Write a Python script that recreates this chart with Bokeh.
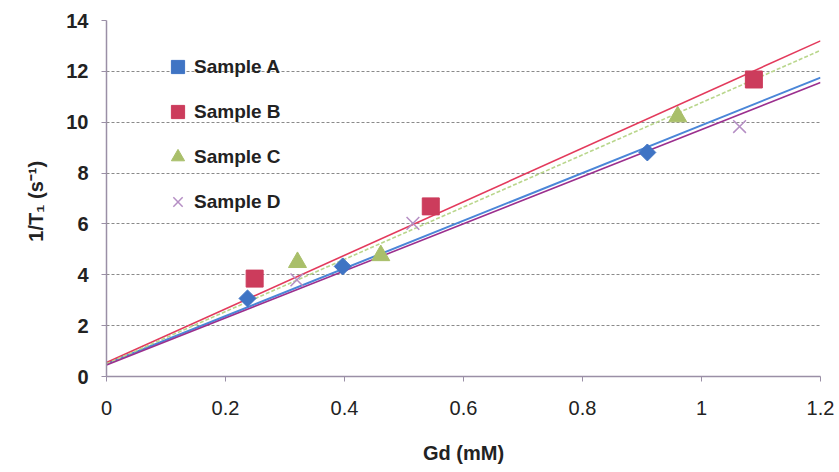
import math
from bokeh.plotting import figure
from bokeh.models import Range1d, FixedTicker, Legend, LegendItem
from bokeh.embed import file_html
from bokeh.resources import INLINE

# ---- data ----
sample_a_x = [0.237, 0.397, 0.909]
sample_a_y = [3.07, 4.33, 8.81]
sample_b_x = [0.249, 0.545, 1.088]
sample_b_y = [3.85, 6.69, 11.68]
sample_c_x = [0.321, 0.461, 0.960]
sample_c_y = [4.49, 4.76, 10.22]
sample_d_x = [0.320, 0.515, 1.064]
sample_d_y = [3.80, 6.02, 9.83]

# linear trend lines (slope, intercept) per sample A, B, C, D
trend_slope = [9.38, 10.54, 10.27, 9.26]
trend_intercept = [0.50, 0.55, 0.50, 0.45]
trend_x = [0.0, 1.2]

x_ticks = [0, 0.2, 0.4, 0.6, 0.8, 1.0, 1.2]
x_tick_labels = ["0", "0.2", "0.4", "0.6", "0.8", "1", "1.2"]
y_ticks = [0, 2, 4, 6, 8, 10, 12, 14]

FONT = "Liberation Sans"

p = figure(width=839, height=472, output_backend="svg", toolbar_location=None,
           x_range=Range1d(0, 1.2), y_range=Range1d(0, 14),
           min_border_left=106, min_border_right=19, min_border_top=20, min_border_bottom=96)
p.outline_line_color = None
p.background_fill_color = "white"
p.border_fill_color = "white"

# grid
p.xgrid.grid_line_color = None
p.ygrid.grid_line_color = "#8a8a8a"
p.ygrid.grid_line_dash = "3 2"
p.ygrid.grid_line_width = 1

# axes
p.xaxis.ticker = FixedTicker(ticks=x_ticks)
p.xaxis.major_label_overrides = {t: l for t, l in zip(x_ticks, x_tick_labels)}
p.yaxis.ticker = FixedTicker(ticks=y_ticks)
for ax in (p.xaxis[0], p.yaxis[0]):
    ax.axis_line_color = "#9a8fa6"
    ax.axis_line_width = 1.5
    ax.major_tick_line_color = "#9a8fa6"
    ax.major_tick_in = 0
    ax.major_tick_out = 5
    ax.minor_tick_line_color = None
    ax.major_label_text_font = FONT
    ax.major_label_text_font_size = "20px"
    ax.major_label_text_color = "#222222"
    ax.axis_label_text_font = FONT
    ax.axis_label_text_font_style = "bold"
    ax.axis_label_text_color = "#222222"
    ax.axis_label_text_font_size = "20px"

p.yaxis.major_label_text_font_style = "bold"
p.yaxis.major_label_standoff = 13
p.yaxis.axis_label = "1/T\u2081  (s\u207b\u00b9)"
p.yaxis.axis_label_standoff = 16
p.xaxis.major_label_standoff = 19
p.xaxis.axis_label = "Gd (mM)"
p.xaxis.axis_label_standoff = 24

# trend lines
line_colors = ["#4a86d8", "#e33a5c", "#b9d68c", "#9b2f8e"]
line_dash = ["solid", "solid", "4 2", "solid"]
line_widths = [2, 1.6, 1.6, 1.6]
for s, b, c, d, w in zip(trend_slope, trend_intercept, line_colors, line_dash, line_widths):
    ys = [b + s * x for x in trend_x]
    p.line(trend_x, ys, line_color=c, line_width=w, line_dash=d)

# markers
ra = p.scatter(sample_a_x, sample_a_y, marker="square", size=12, angle=math.pi / 4,
               fill_color="#3f74c4", line_color="#3f74c4")
rb = p.scatter(sample_b_x, sample_b_y, marker="square", size=17,
               fill_color="#cc3c5c", line_color="#cc3c5c")
rc = p.scatter(sample_c_x, sample_c_y, marker="triangle", size=18,
               fill_color="#a9bf6a", line_color="#a9bf6a")
rd = p.scatter(sample_d_x, sample_d_y, marker="x", size=18,
               line_color="#b58ec4", line_width=1.5)

legend = Legend(items=[
    LegendItem(label="Sample A", renderers=[ra]),
    LegendItem(label="Sample B", renderers=[rb]),
    LegendItem(label="Sample C", renderers=[rc]),
    LegendItem(label="Sample D", renderers=[rd]),
], location=(55, 158))
legend.border_line_color = None
legend.background_fill_alpha = 0
legend.padding = 0
legend.margin = 0
legend.spacing = 12
legend.label_height = 20
legend.glyph_height = 33
legend.glyph_width = 33
legend.label_standoff = -19
legend.label_text_font = FONT
legend.label_text_font_style = "bold"
legend.label_text_font_size = "19px"
legend.label_text_color = "#222222"
p.add_layout(legend)

open("out.html", "w").write(file_html(p, INLINE))
